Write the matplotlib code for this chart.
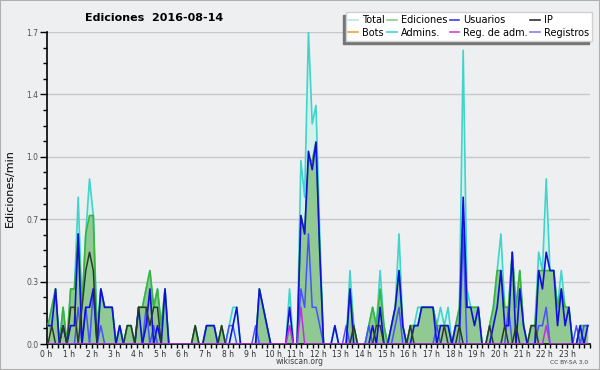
#!/usr/bin/env python

import numpy as np
import matplotlib.pyplot as plt
from matplotlib.lines import Line2D
from matplotlib.patches import Rectangle

# 10-minute bins, edits per minute (one row = 2 hours)
total = [0.1, 0.2, 0.3, 0.0, 0.2, 0.0,  0.3, 0.3, 0.8, 0.2, 0.6, 0.9,
         0.7, 0.1, 0.3, 0.2, 0.2, 0.2,  0.0, 0.1, 0.0, 0.1, 0.1, 0.0,
         0.2, 0.2, 0.3, 0.4, 0.2, 0.3,  0.1, 0.3, 0.0, 0.0, 0.0, 0.0,
         0.0, 0.0, 0.0, 0.1, 0.0, 0.0,  0.1, 0.1, 0.1, 0.0, 0.1, 0.0,
         0.1, 0.2, 0.2, 0.0, 0.0, 0.0,  0.0, 0.0, 0.3, 0.2, 0.1, 0.0,
         0.0, 0.0, 0.0, 0.0, 0.3, 0.0,  0.0, 1.0, 0.8, 1.7, 1.2, 1.3,
         0.6, 0.0, 0.0, 0.0, 0.1, 0.0,  0.0, 0.0, 0.4, 0.1, 0.0, 0.0,
         0.0, 0.1, 0.2, 0.1, 0.4, 0.1,  0.0, 0.1, 0.2, 0.6, 0.1, 0.0,
         0.1, 0.1, 0.2, 0.2, 0.2, 0.2,  0.2, 0.1, 0.2, 0.1, 0.2, 0.0,
         0.1, 0.2, 1.6, 0.3, 0.2, 0.2,  0.2, 0.0, 0.0, 0.1, 0.2, 0.4,
         0.6, 0.2, 0.2, 0.5, 0.2, 0.4,  0.1, 0.0, 0.1, 0.1, 0.5, 0.4,
         0.9, 0.4, 0.4, 0.2, 0.4, 0.2,  0.2, 0.0, 0.0, 0.1, 0.1, 0.1]

ediciones = [0.1, 0.2, 0.3, 0.0, 0.2, 0.0,  0.3, 0.3, 0.6, 0.2, 0.6, 0.7,
             0.7, 0.0, 0.3, 0.2, 0.2, 0.2,  0.0, 0.1, 0.0, 0.1, 0.1, 0.0,
             0.2, 0.2, 0.3, 0.4, 0.2, 0.3,  0.1, 0.3, 0.0, 0.0, 0.0, 0.0,
             0.0, 0.0, 0.0, 0.1, 0.0, 0.0,  0.1, 0.1, 0.1, 0.0, 0.1, 0.0,
             0.0, 0.0, 0.0, 0.0, 0.0, 0.0,  0.0, 0.0, 0.3, 0.2, 0.1, 0.0,
             0.0, 0.0, 0.0, 0.0, 0.1, 0.0,  0.0, 0.7, 0.6, 1.0, 1.0, 1.1,
             0.5, 0.0, 0.0, 0.0, 0.0, 0.0,  0.0, 0.0, 0.3, 0.1, 0.0, 0.0,
             0.0, 0.1, 0.2, 0.1, 0.3, 0.1,  0.0, 0.1, 0.2, 0.4, 0.1, 0.0,
             0.1, 0.1, 0.1, 0.2, 0.2, 0.2,  0.2, 0.1, 0.1, 0.1, 0.1, 0.0,
             0.1, 0.2, 0.7, 0.2, 0.2, 0.2,  0.2, 0.0, 0.0, 0.1, 0.2, 0.4,
             0.4, 0.2, 0.2, 0.5, 0.2, 0.4,  0.1, 0.0, 0.1, 0.1, 0.4, 0.4,
             0.4, 0.4, 0.4, 0.2, 0.3, 0.2,  0.2, 0.0, 0.0, 0.1, 0.1, 0.1]

usuarios = [0.1, 0.1, 0.3, 0.0, 0.1, 0.0,  0.1, 0.1, 0.6, 0.0, 0.2, 0.2,
            0.3, 0.0, 0.3, 0.2, 0.2, 0.2,  0.0, 0.1, 0.0, 0.0, 0.0, 0.0,
            0.2, 0.0, 0.1, 0.3, 0.0, 0.1,  0.0, 0.3, 0.0, 0.0, 0.0, 0.0,
            0.0, 0.0, 0.0, 0.0, 0.0, 0.0,  0.1, 0.1, 0.1, 0.0, 0.0, 0.0,
            0.0, 0.1, 0.2, 0.0, 0.0, 0.0,  0.0, 0.0, 0.3, 0.2, 0.1, 0.0,
            0.0, 0.0, 0.0, 0.0, 0.2, 0.0,  0.0, 0.7, 0.6, 1.05, 0.95, 1.1,
            0.5, 0.0, 0.0, 0.0, 0.1, 0.0,  0.0, 0.0, 0.3, 0.0, 0.0, 0.0,
            0.0, 0.0, 0.1, 0.0, 0.2, 0.0,  0.0, 0.1, 0.2, 0.4, 0.1, 0.0,
            0.0, 0.1, 0.1, 0.2, 0.2, 0.2,  0.2, 0.0, 0.1, 0.1, 0.1, 0.0,
            0.1, 0.1, 0.8, 0.2, 0.2, 0.1,  0.2, 0.0, 0.0, 0.0, 0.1, 0.2,
            0.4, 0.1, 0.1, 0.5, 0.0, 0.3,  0.1, 0.0, 0.0, 0.0, 0.4, 0.3,
            0.5, 0.4, 0.4, 0.1, 0.3, 0.1,  0.2, 0.0, 0.0, 0.1, 0.0, 0.1]

ip = [0.0, 0.1, 0.0, 0.0, 0.1, 0.0,  0.2, 0.2, 0.0, 0.2, 0.4, 0.5,
      0.4, 0.0, 0.0, 0.0, 0.0, 0.0,  0.0, 0.0, 0.0, 0.1, 0.1, 0.0,
      0.2, 0.2, 0.2, 0.1, 0.2, 0.2,  0.0, 0.0, 0.0, 0.0, 0.0, 0.0,
      0.0, 0.0, 0.0, 0.1, 0.0, 0.0,  0.0, 0.0, 0.0, 0.0, 0.1, 0.0,
      0.0, 0.0, 0.0, 0.0, 0.0, 0.0,  0.0, 0.0, 0.0, 0.0, 0.0, 0.0,
      0.0, 0.0, 0.0, 0.0, 0.0, 0.0,  0.0, 0.0, 0.0, 0.0, 0.0, 0.0,
      0.0, 0.0, 0.0, 0.0, 0.0, 0.0,  0.0, 0.0, 0.0, 0.1, 0.0, 0.0,
      0.0, 0.0, 0.0, 0.1, 0.1, 0.0,  0.0, 0.0, 0.0, 0.0, 0.0, 0.0,
      0.1, 0.0, 0.0, 0.0, 0.0, 0.0,  0.0, 0.0, 0.0, 0.1, 0.0, 0.0,
      0.0, 0.1, 0.0, 0.0, 0.0, 0.0,  0.0, 0.0, 0.0, 0.1, 0.0, 0.0,
      0.0, 0.1, 0.0, 0.0, 0.1, 0.0,  0.0, 0.0, 0.1, 0.1, 0.0, 0.0,
      0.0, 0.0, 0.0, 0.0, 0.0, 0.0,  0.0, 0.0, 0.0, 0.0, 0.0, 0.0]

registros = [0.0, 0.0, 0.0, 0.0, 0.0, 0.0,  0.0, 0.0, 0.2, 0.0, 0.2, 0.0,
             0.3, 0.0, 0.1, 0.0, 0.0, 0.0,  0.0, 0.0, 0.0, 0.0, 0.0, 0.0,
             0.0, 0.0, 0.2, 0.0, 0.1, 0.0,  0.0, 0.0, 0.0, 0.0, 0.0, 0.0,
             0.0, 0.0, 0.0, 0.0, 0.0, 0.0,  0.0, 0.0, 0.0, 0.0, 0.0, 0.0,
             0.1, 0.1, 0.0, 0.0, 0.0, 0.0,  0.0, 0.1, 0.0, 0.0, 0.0, 0.0,
             0.0, 0.0, 0.0, 0.0, 0.0, 0.0,  0.0, 0.3, 0.2, 0.6, 0.2, 0.2,
             0.1, 0.0, 0.0, 0.0, 0.0, 0.0,  0.0, 0.1, 0.0, 0.0, 0.0, 0.0,
             0.0, 0.1, 0.0, 0.0, 0.0, 0.0,  0.0, 0.0, 0.1, 0.2, 0.0, 0.0,
             0.0, 0.0, 0.0, 0.0, 0.0, 0.0,  0.0, 0.1, 0.0, 0.0, 0.0, 0.0,
             0.0, 0.0, 0.6, 0.0, 0.0, 0.0,  0.0, 0.0, 0.0, 0.0, 0.0, 0.0,
             0.0, 0.0, 0.2, 0.0, 0.0, 0.0,  0.0, 0.0, 0.0, 0.0, 0.1, 0.1,
             0.2, 0.0, 0.0, 0.0, 0.0, 0.0,  0.0, 0.0, 0.1, 0.0, 0.1, 0.1]

# only a few non-zero bins for "Reg. de adm."
reg_adm_bins = [64, 67, 132]
reg_adm_vals = [0.1, 0.2, 0.1]

hour_labels = ['%d h' % h for h in range(24)]
y_ticks = [0.0, 0.34, 0.68, 1.02, 1.36, 1.7]
y_labels = ['0.0', '0.3', '0.7', '1.0', '1.4', '1.7']

legend_labels = ['Total', 'Bots', 'Ediciones', 'Admins.',
                 'Usuarios', 'Reg. de adm.', 'IP', 'Registros']
legend_colors = ['#b4e8e4', '#f0a040', '#88d088', '#40d0d8',
                 '#4040e0', '#d040d0', '#303030', '#8080f0']

bg = '#eeeff1'


def main():
    t = (np.arange(144) + 0.4) / 6.0
    reg_adm = np.zeros(144)
    reg_adm[reg_adm_bins] = reg_adm_vals

    fig = plt.figure(figsize=(6, 3.7), dpi=100, facecolor=bg)
    ax = fig.add_axes([46.5 / 600, 26 / 370, 543.5 / 600, 312 / 370], facecolor=bg)

    # areas
    ax.fill_between(t, total, color='#d6f0ec', lw=0, zorder=1)
    ax.fill_between(t, ediciones, color='#90c991', lw=0, zorder=2)
    ax.plot(t, total, color='#40d4cc', lw=1.2, zorder=3)
    ax.plot(t, ediciones, color='#3cb43c', lw=1.2, zorder=4)
    ax.plot(t, registros, color='#4a50ff', lw=1.1, zorder=5)
    ax.plot(t, usuarios, color='#1010d8', lw=1.2, zorder=6)
    ax.plot(t, ip, color='#2a3a2a', lw=1.1, zorder=7)
    ax.plot(t, reg_adm, color='#c030e0', lw=1.1, zorder=8)

    ax.set_xlim(0, 24)
    ax.set_ylim(0, 1.7)
    for s in ['top', 'right']:
        ax.spines[s].set_visible(False)
    for s in ['left', 'bottom']:
        ax.spines[s].set_linewidth(1.2)

    ax.set_yticks(y_ticks)
    ax.set_yticklabels(y_labels, fontsize=5.5, color='#505050')
    ax.set_yticks(np.arange(0, 1.71, 0.085), minor=True)
    ax.yaxis.grid(True, color='#c8c8c8', lw=1.0)
    ax.set_axisbelow(True)
    ax.tick_params(axis='y', which='major', length=5, width=1, pad=1)
    ax.tick_params(axis='y', which='minor', length=3, width=1)

    ax.set_xticks(np.arange(24))
    ax.set_xticklabels(hour_labels, fontsize=5.5, color='#303030')
    ax.set_xticks(np.arange(0, 24.01, 0.25), minor=True)
    ax.tick_params(axis='x', which='both', length=3, width=1, pad=1)

    ax.set_ylabel('Ediciones/min', fontsize=8, labelpad=8)

    fig.text(154 / 600, 1 - 18 / 370, 'Ediciones  2016-08-14', ha='center',
             va='center', fontsize=8, fontweight='bold')
    fig.text(300 / 600, 1 - 362 / 370, 'wikiscan.org', ha='center',
             va='center', fontsize=5.5, color='#404040')
    fig.text(569 / 600, 1 - 362 / 370, 'CC BY-SA 3.0', ha='center',
             va='center', fontsize=4.3, color='#404040')

    handles = [Line2D([], [], color=c, lw=1.2) for c in legend_colors]
    leg = fig.legend(handles, legend_labels, ncol=4, loc='upper right',
                     bbox_to_anchor=(592 / 600, 1 - 12 / 370), fontsize=7,
                     handlelength=1.0, handletextpad=0.4, columnspacing=0.25,
                     labelspacing=0.3, borderpad=0.3, borderaxespad=0,
                     fancybox=False, framealpha=1, edgecolor='#d0d0d0')
    leg.set_zorder(5)

    # legend shadow (left / bottom)
    fig.canvas.draw()
    bb = leg.get_window_extent()
    fig.add_artist(Rectangle(((bb.x0 - 3) / 600, (bb.y0 - 3) / 370),
                             bb.width / 600, bb.height / 370,
                             transform=fig.transFigure, color='#767676', zorder=4))

    fig.add_artist(Rectangle((0, 0), 1, 1, transform=fig.transFigure,
                             fill=False, edgecolor='#b0b0b0', lw=1.5))

    plt.savefig('out.png', dpi=100, facecolor=bg)


if __name__ == "__main__":
    main()
